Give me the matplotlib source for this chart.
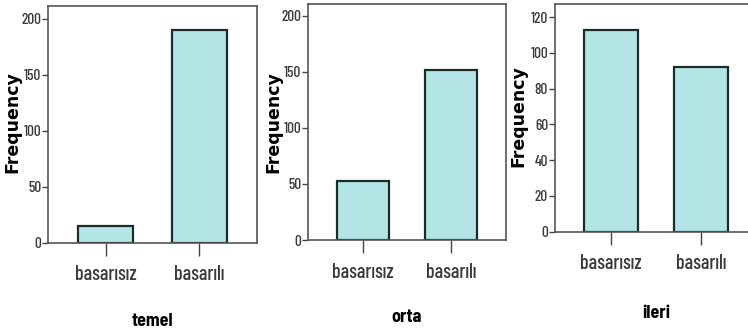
import matplotlib
matplotlib.use("Agg")
import matplotlib.pyplot as plt
from matplotlib.font_manager import fontManager

categories = ["basarısız", "basarılı"]
groups = ["temel", "orta", "ileri"]
temel = [15, 190]
orta = [53, 152]
ileri = [113, 92]
ytops = [212, 210.5, 127.4]
yticks = [[0, 50, 100, 150, 200], [0, 50, 100, 150, 200], [0, 20, 40, 60, 80, 100, 120]]

names = {f.name for f in fontManager.ttflist}


def pick(cands):
    for c in cands:
        if c in names:
            return c
    return "DejaVu Sans"


narrow = pick(["Barlow Condensed", "Liberation Sans Narrow", "Archivo Narrow", "Roboto Condensed"])
narrow_bold = pick(["Barlow Semi Condensed", "Liberation Sans Narrow", "Roboto Condensed", "Archivo Narrow"])

fig = plt.figure(figsize=(7.48, 3.31), dpi=100)
W, H = 748, 331
# axes boxes in pixels: left, right, top, bottom
boxes = [(48, 257, 5.5, 242.5), (308, 506, 4, 240), (555, 757, 4, 231.5)]
# label centres in pixels: ylabel x, ylabel y, xlabel y
labels = [(12, 122, 321), (273, 122, 317), (518, 116, 313)]

for i, vals in enumerate([temel, orta, ileri]):
    l, r, t, b = boxes[i]
    ax = fig.add_axes([l / W, (H - b) / H, (r - l) / W, (b - t) / H])
    x = range(len(categories))
    ax.bar(x, vals, width=0.59, color="#b3e5e6", edgecolor="#1c2b2b", linewidth=1.6)
    ax.set_xlim(-0.62, 1.62)
    ax.set_ylim(0, ytops[i])
    ax.set_xticks(list(x))
    ax.set_xticklabels(categories, fontfamily=narrow, fontweight="medium", fontsize=14.5, color="#3a3a3a")
    ax.set_yticks(yticks[i])
    ax.set_yticklabels([str(v) for v in yticks[i]], fontfamily=narrow, fontweight="medium",
                       fontsize=11, color="#3a3a3a")
    ax.tick_params(axis="x", length=9, width=1, color="#444444", pad=7.5)
    ax.tick_params(axis="y", length=4, width=1, color="#444444", pad=1)
    for s in ax.spines.values():
        s.set_color("#555555")
        s.set_linewidth(1.2)
    lx, ly, xy = labels[i]
    ax.set_xlabel(groups[i], fontfamily=narrow_bold, fontweight="bold", fontsize=13, va="center")
    ax.xaxis.set_label_coords(((l + r) / 2 - l) / (r - l), (b - xy) / (b - t))
    ax.set_ylabel("Frequency", fontfamily="DejaVu Sans", fontweight="bold", fontsize=12.5, va="center")
    ax.yaxis.set_label_coords((lx - l) / (r - l), (b - ly) / (b - t))

fig.savefig("out.png", dpi=100)
